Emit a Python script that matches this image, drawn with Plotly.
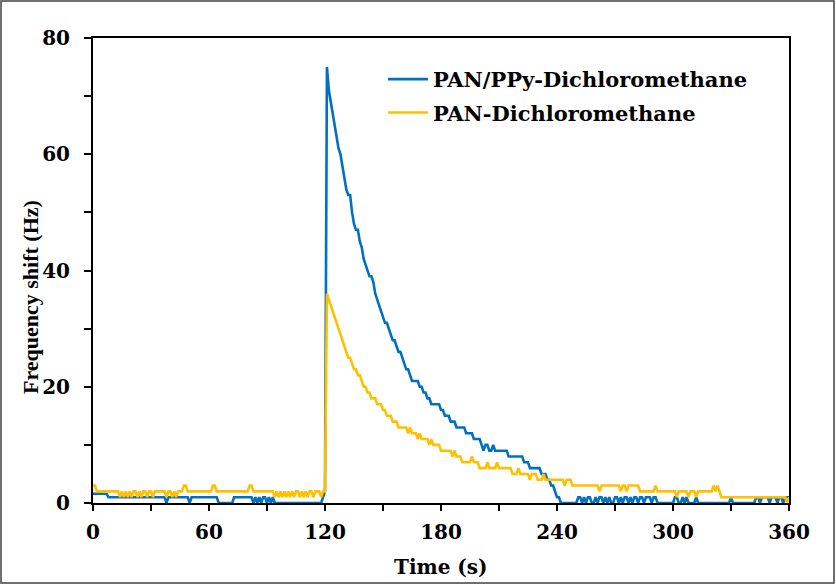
import plotly.graph_objects as go

time_s = list(range(0, 361))

pan_ppy = [
    1.6, 1.6, 1.6, 1.6, 1.6, 1.6, 1.6, 1.6, 1, 1,
    1, 1, 1, 1, 1, 1, 1, 1, 1, 1,
    1, 1, 1, 1, 1, 1, 1, 1, 1, 1,
    1, 1, 1, 1, 1, 1, 1, 1, 0, 1,
    1, 1, 1, 1, 1, 1, 1, 1, 1, 1,
    0, 1, 1, 1, 1, 1, 1, 1, 1, 1,
    1, 1, 1, 1, 1, 0, 0, 0, 0, 0,
    0, 0, 0, 1, 1, 1, 1, 1, 1, 1,
    1, 1, 1, 0, 1, 0, 1, 0, 1, 1,
    0, 1, 0, 1, 0, 0, 0, 0, 0, 0,
    0, 0, 0, 0, 0, 0, 0, 0, 0, 0,
    0, 0, 0, 0, 0, 0, 0, 0, 0, 1,
    2, 75, 71, 69, 67, 65, 63, 61, 60, 58,
    56, 54, 53, 53, 50, 48, 47, 47, 45, 44,
    42, 41, 40, 39, 39, 38, 36, 35, 34, 33,
    32, 31, 31, 30, 29, 28, 28, 27, 26, 26,
    25, 24, 23, 23, 22, 21, 21, 21, 21, 20,
    20, 19, 19, 18, 18, 17, 17, 17, 17, 17,
    16, 16, 15, 15, 15, 14, 14, 14, 13, 13,
    13, 13, 13, 12, 12, 12, 12, 11, 11, 11,
    11, 10, 9, 10, 10, 9, 9, 10, 9, 9,
    9, 9, 9, 9, 9, 8, 8, 8, 8, 8,
    8, 8, 8, 7, 7, 7, 6, 6, 6, 6,
    6, 6, 5, 5, 5, 4, 4, 3, 3, 2,
    1, 1, 0, 0, 0, 0, 0, 0, 0, 0,
    0, 1, 1, 0, 1, 0, 1, 1, 0, 0,
    1, 0, 1, 1, 0, 1, 0, 1, 0, 0,
    1, 1, 0, 1, 0, 1, 1, 0, 1, 0,
    1, 1, 0, 1, 1, 0, 1, 1, 1, 0,
    1, 1, 0, 0, 0, 0, 0, 0, 0, 0,
    0, 1, 1, 0, 0, 1, 0, 1, 0, 0,
    0, 0, 1, 0, 0, 0, 0, 0, 0, 0,
    0, 0, 0, 0, 0, 0, 0, 0, 0, 0,
    1, 0, 0, 0, 0, 0, 0, 0, 0, 0,
    0, 0, 0, 1, 1, 0, 1, 1, 1, 1,
    0, 1, 1, 1, 0, 1, 1, 0, 1, 1,
    1,
]

pan = [
    3, 3, 2, 2, 2, 2, 2, 2, 2, 2,
    2, 2, 2, 2, 1, 2, 1, 2, 1, 2,
    1, 2, 2, 1, 2, 1, 2, 2, 1, 2,
    2, 1, 2, 2, 2, 2, 2, 2, 1, 2,
    2, 1, 2, 1, 2, 2, 2, 3, 3, 2,
    2, 2, 2, 2, 2, 2, 2, 2, 2, 2,
    2, 2, 3, 3, 2, 2, 2, 2, 2, 2,
    2, 2, 2, 2, 2, 2, 2, 2, 2, 2,
    2, 3, 3, 2, 2, 2, 2, 2, 2, 2,
    2, 2, 2, 2, 1, 2, 1, 2, 1, 2,
    1, 2, 1, 2, 1, 2, 2, 1, 2, 1,
    2, 1, 2, 2, 1, 2, 2, 2, 1, 2,
    2, 36, 35, 34, 33, 32, 31, 30, 29, 28,
    27, 26, 25, 25, 24, 23, 23, 22, 22, 21,
    20, 20, 19, 19, 18, 18, 18, 17, 17, 17,
    16, 16, 15, 15, 15, 14, 14, 14, 13, 13,
    13, 13, 13, 12, 13, 12, 12, 12, 11, 12,
    11, 11, 11, 11, 10, 11, 10, 10, 10, 10,
    9, 9, 9, 9, 9, 9, 8, 9, 8, 8,
    8, 7, 7, 7, 7, 7, 8, 7, 7, 7,
    6, 6, 6, 6, 7, 6, 6, 6, 6, 7,
    6, 6, 6, 6, 6, 6, 6, 5, 5, 5,
    6, 5, 5, 5, 5, 5, 4, 5, 5, 5,
    4, 4, 4, 5, 4, 4, 4, 4, 4, 4,
    4, 4, 4, 4, 3, 4, 4, 4, 3, 3,
    3, 3, 3, 3, 3, 3, 3, 3, 3, 3,
    3, 3, 2, 3, 3, 3, 3, 3, 3, 3,
    3, 3, 3, 2, 3, 3, 2, 3, 3, 3,
    3, 3, 3, 2, 2, 2, 2, 2, 2, 2,
    2, 3, 2, 2, 2, 2, 2, 2, 2, 2,
    2, 2, 1, 2, 2, 2, 2, 2, 1, 2,
    2, 2, 1, 2, 2, 2, 2, 2, 2, 2,
    2, 3, 2, 3, 2, 1, 1, 1, 1, 1,
    1, 1, 1, 1, 1, 1, 1, 1, 1, 1,
    1, 1, 1, 1, 1, 1, 1, 1, 1, 1,
    1, 1, 1, 1, 1, 1, 1, 1, 1, 0,
    1,
]

series_names = ["PAN/PPy-Dichloromethane", "PAN-Dichloromethane"]
x_tick_vals = [0, 60, 120, 180, 240, 300, 360]
y_tick_vals = [0, 20, 40, 60, 80]
x_title = "Time (s)"
y_title = "Frequency shift (Hz)"

W, H = 836, 585
L, R, T, B = 93, 47, 38, 82
pw, ph = W - L - R, H - T - B

def px(xp):
    return (xp - L) / pw

def py(yp):
    return (H - B - yp) / ph

fig = go.Figure()
fig.add_trace(go.Scatter(x=time_s, y=pan_ppy, mode="lines", name=series_names[0],
                         legendgroup="a",
                         line=dict(color="#0070C0", width=2.6)))
fig.add_trace(go.Scatter(x=time_s, y=pan, mode="lines", name=series_names[1],
                         legendgroup="b",
                         line=dict(color="#FFC000", width=2.6)))

tick_font = dict(family="DejaVu Serif", size=20, color="black", weight="bold")

fig.update_xaxes(range=[0, 360], tickvals=x_tick_vals, ticks="outside", ticklen=6,
                 tickwidth=2, tickcolor="black", showline=True, linewidth=2,
                 linecolor="black", mirror=True, showgrid=False, zeroline=False,
                 tickfont=tick_font, ticklabelstandoff=4,
                 minor=dict(dtick=30, tick0=0, ticks="outside", ticklen=6,
                            tickwidth=2, tickcolor="black", showgrid=False))
fig.update_yaxes(range=[0, 80], tickvals=y_tick_vals, ticks="outside", ticklen=7,
                 tickwidth=2, tickcolor="black", showline=True, linewidth=2,
                 linecolor="black", mirror=True, showgrid=False, zeroline=False,
                 tickfont=tick_font, ticklabelstandoff=10,
                 minor=dict(dtick=10, tick0=0, ticks="outside", ticklen=7,
                            tickwidth=2, tickcolor="black", showgrid=False))

fig.add_annotation(text=x_title, xref="paper", yref="paper", x=px(441), y=py(567),
                   showarrow=False, xanchor="center", yanchor="middle",
                   font=dict(family="DejaVu Serif", size=20, color="black", weight="bold"))
fig.add_annotation(text=y_title, xref="paper", yref="paper", x=px(30), y=py(297),
                   showarrow=False, xanchor="center", yanchor="middle", textangle=-90,
                   font=dict(family="Liberation Serif", size=22, color="black", weight="bold"))

fig.add_shape(type="rect", xref="paper", yref="paper",
              x0=px(1), x1=px(834), y0=py(583), y1=py(1),
              line=dict(color="#404040", width=1.5), fillcolor="rgba(0,0,0,0)",
              layer="below")

fig.update_layout(
    width=W, height=H,
    margin=dict(l=L, r=R, t=T, b=B, pad=0),
    paper_bgcolor="white", plot_bgcolor="white",
    showlegend=True,
    legend=dict(x=px(383), y=py(59), xanchor="left", yanchor="top",
                bgcolor="rgba(0,0,0,0)", borderwidth=0,
                font=dict(family="DejaVu Serif", size=21, color="black", weight="bold"),
                tracegroupgap=3, itemwidth=40, traceorder="grouped"),
)

fig.write_html("out.html",
               config={"displayModeBar": False},
               post_script="document.body.style.margin='0';document.body.style.padding='0';")
